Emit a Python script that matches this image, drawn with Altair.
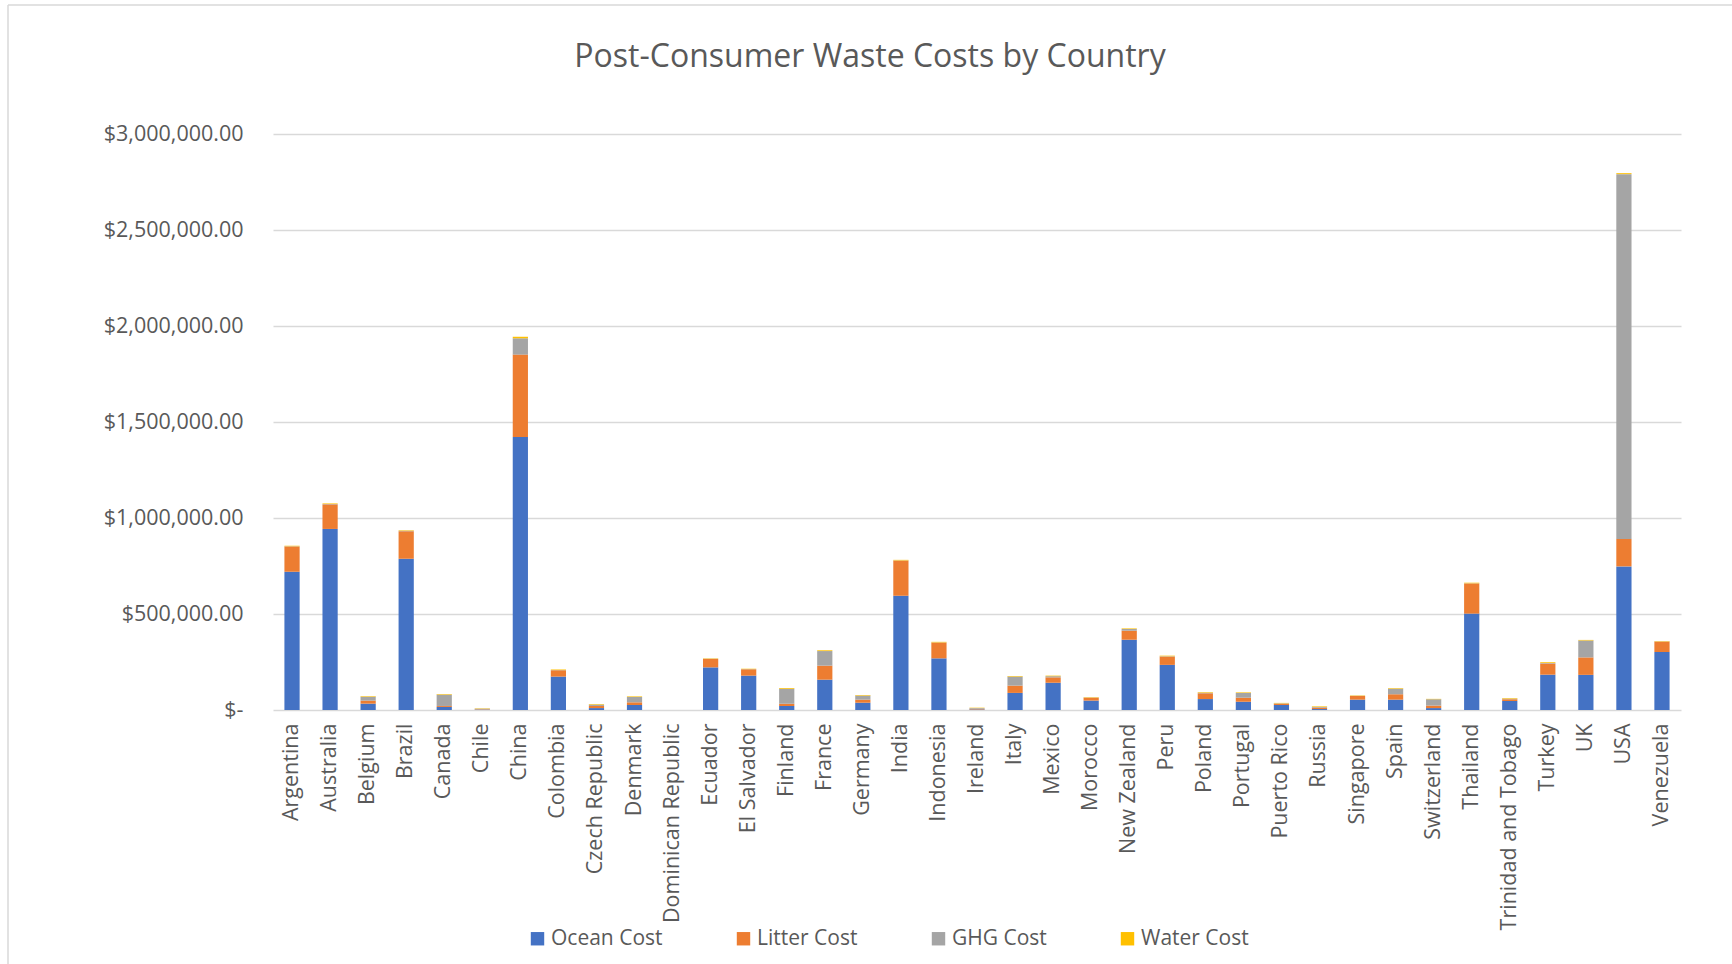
import altair as alt
import pandas as pd

countries = ["Argentina", "Australia", "Belgium", "Brazil", "Canada", "Chile", "China",
             "Colombia", "Czech Republic", "Denmark", "Dominican Republic", "Ecuador",
             "El Salvador", "Finland", "France", "Germany", "India", "Indonesia", "Ireland",
             "Italy", "Mexico", "Morocco", "New Zealand", "Peru", "Poland", "Portugal",
             "Puerto Rico", "Russia", "Singapore", "Spain", "Switzerland", "Thailand",
             "Trinidad and Tobago", "Turkey", "UK", "USA", "Venezuela"]

ocean_cost = [720000, 943000, 33000, 788000, 16000, 2000, 1422000, 174000, 10000, 26000,
              0, 222000, 179000, 21000, 158000, 38000, 595000, 269000, 3000, 89000,
              142000, 49000, 366000, 235000, 57000, 43000, 26000, 5000, 54000, 54000,
              10000, 502000, 47000, 184000, 183000, 748000, 302000]
litter_cost = [131000, 128000, 16000, 143000, 5000, 2000, 429000, 33000, 11000, 14000,
               0, 44000, 33000, 12000, 73000, 16000, 183000, 82000, 3000, 38000,
               28000, 15000, 47000, 43000, 30000, 21000, 7000, 7000, 19000, 28000,
               13000, 157000, 9000, 58000, 91000, 143000, 54000]
ghg_cost = [2000, 2000, 20000, 2000, 59000, 3000, 85000, 1000, 7000, 28000,
            0, 1000, 1000, 78000, 76000, 21000, 1000, 1000, 4000, 47000,
            6000, 1000, 9000, 2000, 3000, 25000, 2000, 4000, 1000, 29000,
            33000, 1000, 3000, 3000, 88000, 1900000, 1000]
water_cost = [3000, 3000, 3000, 3000, 3000, 2000, 8000, 3000, 3000, 3000,
              0, 2000, 2000, 4000, 4000, 3000, 3000, 3000, 2000, 3000,
              3000, 2000, 3000, 3000, 3000, 3000, 2000, 3000, 2000, 3000,
              2000, 3000, 3000, 4000, 3000, 5000, 2000]

series_names = ["Ocean Cost", "Litter Cost", "GHG Cost", "Water Cost"]
series_colors = ["#4472C4", "#ED7D31", "#A5A5A5", "#FFC000"]
y_ticks = [0, 500000, 1000000, 1500000, 2000000, 2500000, 3000000]
title_text = "Post-Consumer Waste Costs by Country"

series_values = [ocean_cost, litter_cost, ghg_cost, water_cost]
rows = []
for i, c in enumerate(countries):
    for j, name in enumerate(series_names):
        rows.append({"Country": c, "Series": name, "order": j, "Cost": series_values[j][i]})
df = pd.DataFrame(rows)

FONT = "Open Sans"
TXT = "#595959"

bars = alt.Chart(df).mark_bar().encode(
    x=alt.X("Country:N", sort=countries, title=None,
            scale=alt.Scale(paddingInner=0.6, paddingOuter=0.3),
            axis=alt.Axis(labelAngle=-90, labelFontSize=21.5, labelColor=TXT, labelFont=FONT,
                          labelLimit=0, domain=False, ticks=False, labelPadding=13, grid=False)),
    y=alt.Y("sum(Cost):Q", title=None,
            scale=alt.Scale(domain=[0, 3000000], nice=False),
            axis=alt.Axis(values=y_ticks,
                          labelExpr="datum.value == 0 ? '$-\u00a0\u00a0' : format(datum.value, '$,.2f')",
                          labelFontSize=21.5, labelColor=TXT, labelFont=FONT, labelPadding=30,
                          domain=False, ticks=False, grid=True, gridColor="#D9D9D9", gridWidth=1.3)),
    color=alt.Color("Series:N", sort=series_names,
                    scale=alt.Scale(domain=series_names, range=series_colors),
                    legend=alt.Legend(orient="none", legendX=254, legendY=794, direction="horizontal",
                                      title=None, symbolType="square", symbolSize=180,
                                      symbolStrokeWidth=0, labelFontSize=21, labelColor=TXT,
                                      labelFont=FONT, columnPadding=70, labelOffset=3)),
    order=alt.Order("order:Q", sort="ascending"),
)

single = alt.Data(values=[{"label": title_text}])
left_frame = alt.Chart(single).mark_rule(color="#D9D9D9", strokeWidth=1.5).encode(
    x=alt.value(-265), y=alt.value(-129), y2=alt.value(830))
top_frame = alt.Chart(single).mark_rule(color="#D9D9D9", strokeWidth=1.5).encode(
    x=alt.value(-265), x2=alt.value(1459), y=alt.value(-129))
title_mark = alt.Chart(single).mark_text(
    fontSize=32, font=FONT, color=TXT, align="center", baseline="alphabetic"
).encode(text="label:N", x=alt.value(597), y=alt.value(-67))

chart = alt.layer(bars, left_frame, top_frame, title_mark).properties(
    width=1408, height=576,
    background="white",
    autosize=alt.AutoSizeParams(type="none"),
    padding={"left": 273, "top": 134, "right": 51, "bottom": 254},
).configure_view(stroke=None, strokeWidth=0)

chart.save("out.html", embed_options={"renderer": "svg", "actions": False})
